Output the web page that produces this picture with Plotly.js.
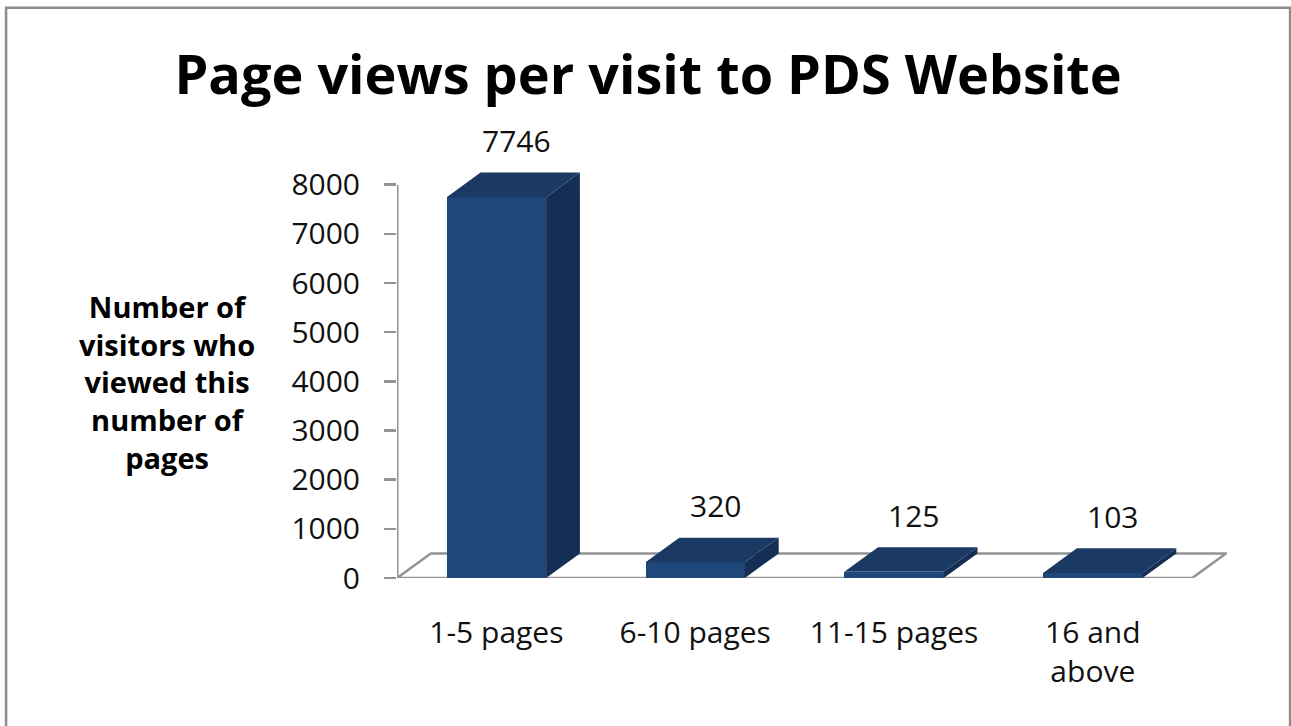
<!DOCTYPE html>
<html>
<head>
<meta charset="utf-8">
<script src="https://cdn.plot.ly/plotly-3.0.1.min.js"></script>
<style>
html,body{margin:0;padding:0;background:#fff;}
#chart{width:1291px;height:726px;}
</style>
</head>
<body>
<div id="chart"></div>
<script>
// ---- data ----
const categories = ["1-5 pages", "6-10 pages", "11-15 pages", "16 and<br>above"];
const visitors = [7746, 320, 125, 103];
const yTicks = [0, 1000, 2000, 3000, 4000, 5000, 6000, 7000, 8000];

// ---- style ----
const FRONT = "#1f477a";
const TOP = "#1b3a63";
const SIDE = "#152e53";
const GRID = "#939393";
const FONT = "Open Sans";
const depthX = 0.17;   // depth offset in category units
const depthY = 500;    // depth offset in value units
const barW = 0.5;

const xs = categories.map((c, i) => i);
const nCat = categories.length;

const traces = [];
// front faces
traces.push({
  type: "bar", x: xs, y: visitors, width: barW,
  marker: {color: FRONT, line: {width: 0}},
  hoverinfo: "skip", showlegend: false
});
// side + top faces derived from the values
xs.forEach((x, i) => {
  const v = visitors[i];
  const l = x - barW / 2, r = x + barW / 2;
  traces.push({
    type: "scatter", mode: "lines", fill: "toself", fillcolor: SIDE,
    line: {width: 0, color: SIDE},
    x: [r, r + depthX, r + depthX, r, r],
    y: [0, depthY, v + depthY, v, 0],
    hoverinfo: "skip", showlegend: false
  });
  traces.push({
    type: "scatter", mode: "lines", fill: "toself", fillcolor: TOP,
    line: {width: 0, color: TOP},
    x: [l, r, r + depthX, l + depthX, l],
    y: [v, v, v + depthY, v + depthY, v],
    hoverinfo: "skip", showlegend: false
  });
});

const x0 = -0.5, x1 = nCat - 0.5;
const shapes = [
  // floor
  {type: "path", xref: "x", yref: "y", layer: "below",
   path: `M ${x0},0 L ${x1},0 L ${x1 + depthX},${depthY} L ${x0 + depthX},${depthY} Z`,
   fillcolor: "#ffffff", line: {color: GRID, width: 2.5}},
  // value axis line
  {type: "line", xref: "x", yref: "y", x0: x0, x1: x0, y0: 0, y1: yTicks[yTicks.length - 1],
   line: {color: GRID, width: 3}},
  // chart frame
  {type: "rect", xref: "paper", yref: "paper", x0: -0.471, x1: 1.076, y0: -0.40, y1: 1.381,
   line: {color: "#8c8c8c", width: 2.5}, fillcolor: "rgba(0,0,0,0)"}
];

const annotations = xs.map((x, i) => ({
  x: x + 0.1, y: visitors[i] + depthY, xref: "x", yref: "y",
  text: String(visitors[i]), showarrow: false, yanchor: "middle", yshift: 32,
  font: {family: FONT, size: 30, color: "#111"}
}));
annotations.push({
  xref: "paper", yref: "paper", x: -0.277, y: 0.475,
  xanchor: "center", yanchor: "middle", showarrow: false, align: "center",
  text: "Number of<br>visitors who<br>viewed this<br>number of<br>pages",
  font: {family: FONT, size: 29, color: "#000", weight: "bold"}
});

const layout = {
  width: 1291, height: 726,
  margin: {l: 397, r: 64, t: 165, b: 148, pad: 0},
  paper_bgcolor: "#ffffff", plot_bgcolor: "rgba(0,0,0,0)",
  title: {
    text: "Page views per visit to PDS Website",
    font: {family: FONT, size: 54, color: "#000", weight: "bold"},
    x: 0.502, xref: "container", xanchor: "center",
    y: 0.897, yref: "container", yanchor: "middle"
  },
  xaxis: {
    range: [x0, x1 + depthX + 0.005],
    tickvals: xs, ticktext: categories,
    showgrid: false, zeroline: false, showline: false, ticks: "",
    ticklabelstandoff: 34,
    tickfont: {family: FONT, size: 30, color: "#111"}
  },
  yaxis: {
    range: [0, 8400],
    tickvals: yTicks, ticktext: yTicks.map(String),
    showgrid: false, zeroline: false, showline: false,
    ticks: "outside", ticklen: 12, tickwidth: 2.5, tickcolor: GRID,
    ticklabelstandoff: 18,
    tickfont: {family: FONT, size: 30, color: "#111"}
  },
  shapes: shapes,
  annotations: annotations,
  showlegend: false,
  bargap: 0
};

Plotly.newPlot("chart", traces, layout, {displayModeBar: false, staticPlot: true});
</script>
</body>
</html>
